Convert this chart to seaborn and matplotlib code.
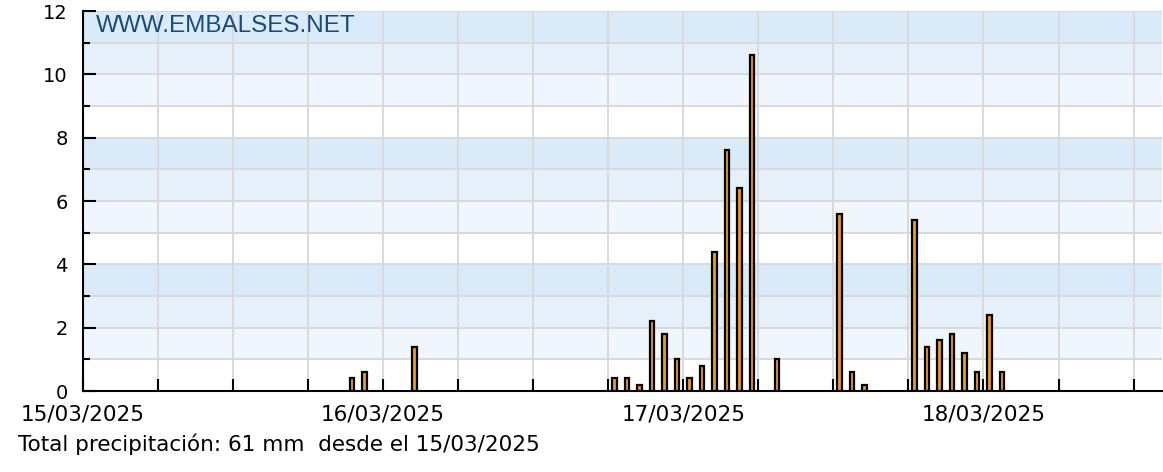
"""
Precipitación horaria - embalses.net
Barras por hora desde el 15/03/2025.
"""

import pandas as pd
import seaborn as sns
import matplotlib.pyplot as plt
from matplotlib.ticker import FixedLocator, MultipleLocator

# data: hourly precipitation (mm), hour of start of each interval
times = [
    "2025-03-15 21:00", "2025-03-15 22:00", "2025-03-16 02:00",
    "2025-03-16 18:00", "2025-03-16 19:00", "2025-03-16 20:00",
    "2025-03-16 21:00", "2025-03-16 22:00", "2025-03-16 23:00",
    "2025-03-17 00:00", "2025-03-17 01:00", "2025-03-17 02:00",
    "2025-03-17 03:00", "2025-03-17 04:00", "2025-03-17 05:00",
    "2025-03-17 07:00", "2025-03-17 12:00", "2025-03-17 13:00",
    "2025-03-17 14:00", "2025-03-17 18:00", "2025-03-17 19:00",
    "2025-03-17 20:00", "2025-03-17 21:00", "2025-03-17 22:00",
    "2025-03-17 23:00", "2025-03-18 00:00", "2025-03-18 01:00",
]
precip = [
    0.4, 0.6, 1.4,
    0.4, 0.4, 0.2,
    2.2, 1.8, 1.0,
    0.4, 0.8, 4.4,
    7.6, 6.4, 10.6,
    1.0, 5.6, 0.6,
    0.2, 5.4, 1.4,
    1.6, 1.8, 1.2,
    0.6, 2.4, 0.6,
]
day_labels = ["15/03/2025", "16/03/2025", "17/03/2025", "18/03/2025"]
start = pd.Timestamp("2025-03-15 00:00")
footer = "Total precipitación: 61 mm  desde el 15/03/2025"

df = pd.DataFrame({"time": pd.to_datetime(times), "mm": precip})
# bar centred in the middle of its hour
df["pos"] = (df["time"] - start) / pd.Timedelta(hours=1) + 0.5

sns.set_style("white")
plt.rcParams["font.family"] = ["DejaVu Sans"]

fig = plt.figure(figsize=(11.63, 4.72), dpi=100)
ax = fig.add_axes([0.0714, 0.1716, 0.9280, 0.8050])

# banded background, 4 shades repeating every 4 mm
shades = ["#ffffff", "#f0f6fd", "#e5f0fb", "#d9eaf8"]
for k in range(12):
    ax.axhspan(k, k + 1, color=shades[k % 4], zorder=0.1, lw=0)

sns.barplot(data=df, x="pos", y="mm", native_scale=True, width=0.36,
            color="#ee9a26", saturation=1, edgecolor="black", linewidth=1.6,
            errorbar=None, ax=ax, zorder=3)

ax.set_xlim(0, 86.3)
ax.set_ylim(0, 12)
ax.set_axisbelow(True)

ticks = list(range(0, 87, 6))
ax.xaxis.set_major_locator(FixedLocator(ticks))
ax.set_xticklabels([day_labels[t // 24] if t % 24 == 0 else "" for t in ticks])
ax.yaxis.set_major_locator(MultipleLocator(2))
ax.yaxis.set_minor_locator(MultipleLocator(1))

ax.grid(True, which="both", color="#d9d9d9", lw=1.4)
ax.tick_params(axis="x", bottom=True, direction="in", length=9, width=1.5,
               pad=10, labelsize=15.5, color="black", labelcolor="black")
ax.tick_params(axis="y", which="major", left=True, direction="in", length=9,
               width=1.5, pad=11, labelsize=14, color="black",
               labelcolor="black")
ax.tick_params(axis="y", which="minor", left=True, direction="in", length=5,
               width=1.5, color="black")
ax.set_xlabel("")
ax.set_ylabel("")

for side in ["top", "right"]:
    ax.spines[side].set_visible(False)
for side in ["left", "bottom"]:
    ax.spines[side].set_color("black")
    ax.spines[side].set_linewidth(1.5)
    ax.spines[side].set_zorder(5)

# keep tick marks above the shaded bands
for t in ax.xaxis.get_major_ticks() + ax.yaxis.get_major_ticks() + ax.yaxis.get_minor_ticks():
    t.tick1line.set_zorder(4)

ax.text(0.012, 0.945, "WWW.EMBALSES.NET", transform=ax.transAxes,
        family="Liberation Sans", fontsize=17.5, color="#1b4a7a",
        va="baseline", ha="left", zorder=6)

fig.text(0.0155, 0.045, footer, fontsize=15.5, color="black",
         va="baseline", ha="left")

plt.savefig("out.png", dpi=100)
